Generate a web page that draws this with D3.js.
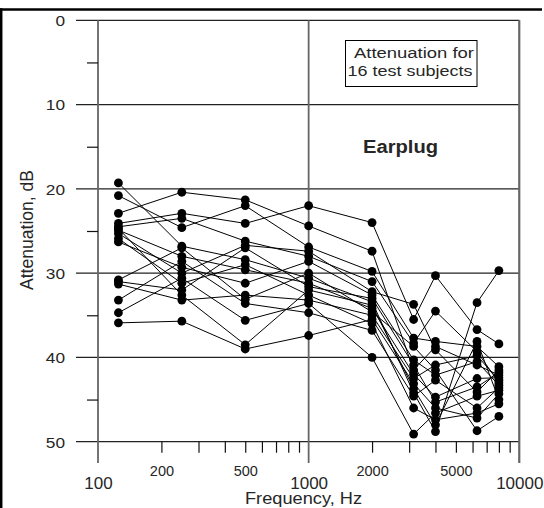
<!DOCTYPE html>
<html>
<head>
<meta charset="utf-8">
<script src="https://cdn.jsdelivr.net/npm/d3@7"></script>
<style>
  html, body { margin: 0; padding: 0; background: #fff; }
  svg { display: block; }
  text { font-family: "Liberation Sans", Arial, sans-serif; fill: #262626; }
</style>
</head>
<body>
<svg id="chart" width="544" height="508"></svg>
<script>
// Test frequencies, Hz
const frequencies = [125, 250, 500, 1000, 2000, 3150, 4000, 6300, 8000];

// Attenuation (dB) per subject, one value per test frequency
const subject01 = [22.9, 20.4, 21.3, 24.4, 27.4, 41.5, 38.7, 40.9, 42.1];
const subject02 = [24.1, 22.9, 24.1, 22.0, 24.0, 35.5, 30.3, 36.7, 38.4];
const subject03 = [35.9, 35.7, 39.0, 37.4, 35.5, 43.1, 46.0, 47.2, 44.3];
const subject04 = [19.3, 26.8, 28.4, 30.6, 33.4, 44.2, 48.8, 33.5, 29.7];
const subject05 = [20.8, 24.6, 22.0, 26.9, 29.8, 37.7, 38.1, 38.7, 41.1];
const subject06 = [24.5, 23.5, 26.2, 28.0, 31.0, 38.3, 34.5, 39.3, 43.0];
const subject07 = [24.9, 28.0, 29.6, 31.2, 34.2, 42.0, 44.7, 42.5, 42.4];
const subject08 = [25.3, 30.0, 26.7, 27.4, 32.2, 33.7, 39.1, 44.1, 41.5];
const subject09 = [25.9, 31.2, 29.0, 32.6, 36.0, 46.0, 47.4, 46.6, 45.5];
const subject10 = [26.3, 29.3, 31.2, 28.6, 32.6, 40.3, 42.1, 40.5, 43.3];
const subject11 = [30.8, 27.0, 33.1, 30.0, 34.6, 38.7, 41.5, 48.7, 47.0];
const subject12 = [31.0, 32.0, 27.0, 31.6, 33.0, 40.9, 45.3, 43.5, 41.8];
const subject13 = [31.3, 33.2, 32.6, 33.2, 35.0, 42.5, 40.9, 39.8, 42.7];
const subject14 = [33.2, 28.6, 33.6, 34.7, 36.8, 44.6, 42.7, 46.0, 43.6];
const subject15 = [34.7, 30.6, 35.6, 33.6, 40.0, 49.1, 46.6, 44.6, 43.9];
const subject16 = [24.7, 32.6, 38.5, 32.0, 33.8, 43.7, 48.0, 38.1, 45.0];

const subjects = [subject01, subject02, subject03, subject04, subject05, subject06,
                  subject07, subject08, subject09, subject10, subject11, subject12,
                  subject13, subject14, subject15, subject16];

// Axis ticks and labels
const yMajorTicks = [0, 10, 20, 30, 40, 50];
const yMinorTicks = [5, 15, 25, 35, 45];
const xDecadeTicks = [100, 1000, 10000];
const xMinorTicks = [200, 300, 400, 500, 600, 700, 800, 900,
                     2000, 3000, 4000, 5000, 6000, 7000, 8000, 9000];
const xMinorLabelled = [200, 500, 2000, 5000];

const xTitle = "Frequency, Hz";
const yTitle = "Attenuation, dB";
const noteLines = ["Attenuation for", "16 test subjects"];
const panelLabel = "Earplug";

const svg = d3.select("#chart");

const plotLeft = 98, plotRight = 519.3, plotTop = 20.3, plotBottom = 441.7;
const x = d3.scaleLog().domain([100, 10000]).range([plotLeft, plotRight]);
const y = d3.scaleLinear().domain([0, 50]).range([plotTop, plotBottom]);

// Outer frame (top and left edges)
svg.append("line").attr("x1", 0).attr("x2", 542).attr("y1", 9.5).attr("y2", 9.5)
  .attr("stroke", "#000").attr("stroke-width", 2.5);
svg.append("line").attr("x1", 1.2).attr("x2", 1.2).attr("y1", 8.3).attr("y2", 508)
  .attr("stroke", "#000").attr("stroke-width", 2.5);

// Horizontal grid lines at the major dB ticks
svg.append("g").selectAll("line").data(yMajorTicks).join("line")
  .attr("x1", 76).attr("x2", plotRight)
  .attr("y1", d => y(d)).attr("y2", d => y(d))
  .attr("stroke", "#222").attr("stroke-width", 1.2);

// Vertical lines at each decade, extending below the plot
svg.append("g").selectAll("line").data(xDecadeTicks).join("line")
  .attr("x1", d => x(d)).attr("x2", d => x(d))
  .attr("y1", plotTop).attr("y2", 463)
  .attr("stroke", "#666").attr("stroke-width", 1.8);

// Y axis labels (major) and minor ticks
const yAxis = svg.append("g").attr("transform", `translate(${plotLeft},0)`)
  .call(d3.axisLeft(y).tickValues(yMajorTicks).tickSize(22).tickPadding(11)
    .tickFormat(d3.format("d")));
yAxis.select(".domain").remove();
yAxis.selectAll(".tick line").remove();
yAxis.selectAll("text")
  .attr("font-size", 15).attr("font-family", null).attr("fill", "#262626")
  .attr("dy", "0.36em")
  .attr("textLength", d => String(d).length * 9.6)
  .attr("lengthAdjust", "spacingAndGlyphs");

const yMinor = svg.append("g").attr("transform", `translate(${plotLeft},0)`)
  .call(d3.axisLeft(y).tickValues(yMinorTicks).tickSize(11).tickFormat(""));
yMinor.select(".domain").remove();
yMinor.selectAll(".tick line").attr("stroke", "#111").attr("stroke-width", 1.2);

// X axis minor ticks with a few labels
const xMinor = svg.append("g").attr("transform", `translate(0,${plotBottom})`)
  .call(d3.axisBottom(x).tickValues(xMinorTicks).tickSize(11).tickPadding(13.5)
    .tickFormat(d => xMinorLabelled.includes(d) ? String(d) : ""));
xMinor.select(".domain").remove();
xMinor.selectAll(".tick line").attr("stroke", "#111").attr("stroke-width", 1.2);
xMinor.selectAll("text")
  .attr("font-size", 14.5).attr("font-family", null).attr("fill", "#262626");

// X axis decade labels, set lower
const xMajor = svg.append("g").attr("transform", `translate(0,${plotBottom})`)
  .call(d3.axisBottom(x).tickValues(xDecadeTicks).tickSize(21).tickPadding(14)
    .tickFormat(d3.format("d")));
xMajor.select(".domain").remove();
xMajor.selectAll(".tick line").remove();
xMajor.selectAll("text")
  .attr("font-size", 17).attr("font-family", null).attr("fill", "#262626");

// Right edge of the plot area
svg.append("line").attr("x1", plotRight).attr("x2", plotRight).attr("y1", plotTop).attr("y2", 463)
  .attr("stroke", "#666").attr("stroke-width", 1.8);

// Axis titles
svg.append("text")
  .attr("transform", "translate(33,230) rotate(-90)")
  .attr("text-anchor", "middle").attr("font-size", 17.5)
  .attr("textLength", 120).attr("lengthAdjust", "spacingAndGlyphs")
  .text(yTitle);
svg.append("text")
  .attr("x", 303.5).attr("y", 503.5)
  .attr("text-anchor", "middle").attr("font-size", 17)
  .attr("textLength", 117).attr("lengthAdjust", "spacingAndGlyphs")
  .text(xTitle);

// Note box
svg.append("rect").attr("x", 345.5).attr("y", 40.5).attr("width", 131.5).attr("height", 46)
  .attr("fill", "#fff").attr("stroke", "#000").attr("stroke-width", 1);
svg.append("text").attr("x", 354).attr("y", 58.3).attr("font-size", 15.5)
  .attr("textLength", 120).attr("lengthAdjust", "spacingAndGlyphs")
  .text(noteLines[0]);
svg.append("text").attr("x", 347.5).attr("y", 76.3).attr("font-size", 15.5)
  .attr("textLength", 125).attr("lengthAdjust", "spacingAndGlyphs")
  .text(noteLines[1]);

// Panel label
svg.append("text").attr("x", 363).attr("y", 153).attr("font-size", 17.5)
  .attr("font-weight", "bold").attr("fill", "#000")
  .attr("textLength", 75).attr("lengthAdjust", "spacingAndGlyphs")
  .text(panelLabel);

// Subject lines and markers
const line = d3.line().x((d, i) => x(frequencies[i])).y(d => y(d));
const plot = svg.append("g");
plot.selectAll("path").data(subjects).join("path")
  .attr("d", line)
  .attr("fill", "none").attr("stroke", "#000").attr("stroke-width", 1);

const points = subjects.flatMap(s => s.map((v, i) => ({ f: frequencies[i], v })));
plot.selectAll("circle").data(points).join("circle")
  .attr("cx", d => x(d.f)).attr("cy", d => y(d.v)).attr("r", 4.4)
  .attr("fill", "#000");
</script>
</body>
</html>
